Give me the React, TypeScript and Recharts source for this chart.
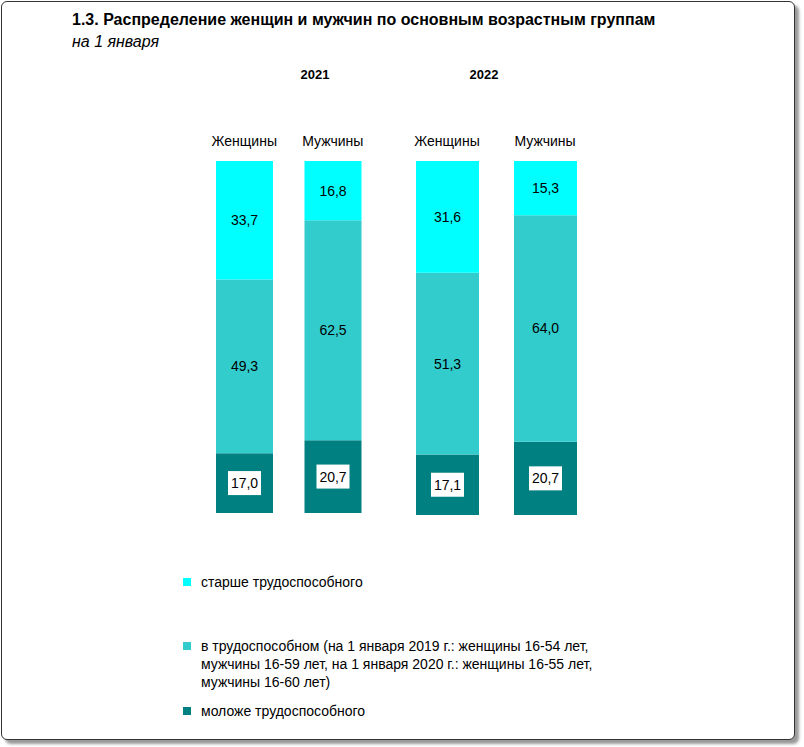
import React from 'react';
import { BarChart, Bar, XAxis, YAxis, LabelList } from 'recharts';

const title = '1.3. Распределение женщин и мужчин по основным возрастным группам';
const subtitle = 'на 1 января';
const years = ['2021', '2022'];
const sexes = ['Женщины', 'Мужчины'];

const older2021 = [33.7, 16.8];
const working2021 = [49.3, 62.5];
const younger2021 = [17.0, 20.7];

const older2022 = [31.6, 15.3];
const working2022 = [51.3, 64.0];
const younger2022 = [17.1, 20.7];

const seriesNames = {
  older: 'старше трудоспособного',
  working: [
    'в трудоспособном (на 1 января 2019 г.: женщины 16-54 лет,',
    'мужчины 16-59 лет, на 1 января 2020 г.: женщины 16-55 лет,',
    'мужчины 16-60 лет)',
  ],
  younger: 'моложе трудоспособного',
};

const COLORS = { older: '#00FFFF', working: '#33CCCC', younger: '#008080' };
const FONT = '"Liberation Sans", Arial, sans-serif';

const fmt = (v: number) => v.toFixed(1).replace('.', ',');

function build(older: number[], working: number[], younger: number[]) {
  return sexes.map((s, i) => ({ sex: s, older: older[i], working: working[i], younger: younger[i] }));
}

const data2021 = build(older2021, working2021, younger2021);
const data2022 = build(older2022, working2022, younger2022);

const PlainLabel = (props: any) => {
  const { x, y, width, height, value } = props;
  return (
    <text x={x + width / 2} y={y + height / 2} textAnchor="middle" dominantBaseline="central"
      fontSize={14} fontFamily={FONT} fill="#000">{fmt(value)}</text>
  );
};

const BoxLabel = (props: any) => {
  const { x, y, width, height, value } = props;
  const cx = x + width / 2;
  const cy = y + height / 2;
  return (
    <g>
      <rect x={cx - 16.5} y={cy - 12} width={33} height={24} fill="#fff" />
      <text x={cx} y={cy} textAnchor="middle" dominantBaseline="central"
        fontSize={14} fontFamily={FONT} fill="#000">{fmt(value)}</text>
    </g>
  );
};

function YearChart({ data, left, width, height, barSize }: any) {
  return (
    <div style={{ position: 'absolute', left, top: 100 }}>
      <BarChart width={width} height={height} data={data} margin={{ top: 31, right: 0, bottom: 0, left: 0 }} barCategoryGap={0}>
        <XAxis dataKey="sex" orientation="top" axisLine={false} tickLine={false} tickSize={0} tickMargin={15}
          height={30} interval={0} tick={{ fontSize: 14, fontFamily: FONT, fill: '#000' }} />
        <YAxis hide domain={[0, 100]} />
        <Bar dataKey="younger" stackId="a" fill={COLORS.younger} barSize={barSize} isAnimationActive={false}>
          <LabelList dataKey="younger" content={BoxLabel} />
        </Bar>
        <Bar dataKey="working" stackId="a" fill={COLORS.working} barSize={barSize} isAnimationActive={false}>
          <LabelList dataKey="working" content={PlainLabel} />
        </Bar>
        <Bar dataKey="older" stackId="a" fill={COLORS.older} barSize={barSize} isAnimationActive={false}>
          <LabelList dataKey="older" content={PlainLabel} />
        </Bar>
      </BarChart>
    </div>
  );
}

const legendItems = [
  { key: 'older', lines: [seriesNames.older], top: 573 },
  { key: 'working', lines: seriesNames.working, top: 637 },
  { key: 'younger', lines: [seriesNames.younger], top: 702 },
];

export default function App() {
  return (
    <div style={{ position: 'absolute', left: 0, top: 0, width: 804, height: 747, background: '#fff', fontFamily: FONT }}>
      <div style={{ position: 'absolute', left: 1, top: 1, width: 792, height: 737, border: '1.5px solid #333', borderRadius: 6, boxShadow: '4px 4px 3px #999', background: '#fff' }} />
      <div style={{ position: 'absolute', left: 72, top: 11, fontSize: 16, fontWeight: 'bold', whiteSpace: 'nowrap', color: '#000' }}>{title}</div>
      <div style={{ position: 'absolute', left: 72, top: 33, fontSize: 16, fontStyle: 'italic', whiteSpace: 'nowrap', color: '#000' }}>{subtitle}</div>
      <div style={{ position: 'absolute', left: 295, top: 67, width: 40, textAlign: 'center', fontSize: 13, fontWeight: 'bold' }}>{years[0]}</div>
      <div style={{ position: 'absolute', left: 464, top: 67, width: 40, textAlign: 'center', fontSize: 13, fontWeight: 'bold' }}>{years[1]}</div>
      <YearChart data={data2021} left={200} width={177} height={413} barSize={57} />
      <YearChart data={data2022} left={398} width={196} height={415} barSize={63} />
      {legendItems.map((it) => (
        <div key={it.key} style={{ position: 'absolute', left: 183, top: it.top }}>
          <div style={{ position: 'absolute', left: 0, top: 5, width: 8, height: 8, background: (COLORS as any)[it.key] }} />
          <div style={{ position: 'absolute', left: 18, top: 0, fontSize: 14, lineHeight: '18px', whiteSpace: 'nowrap', color: '#000' }}>
            {it.lines.map((l: string, i: number) => <div key={i}>{l}</div>)}
          </div>
        </div>
      ))}
    </div>
  );
}
